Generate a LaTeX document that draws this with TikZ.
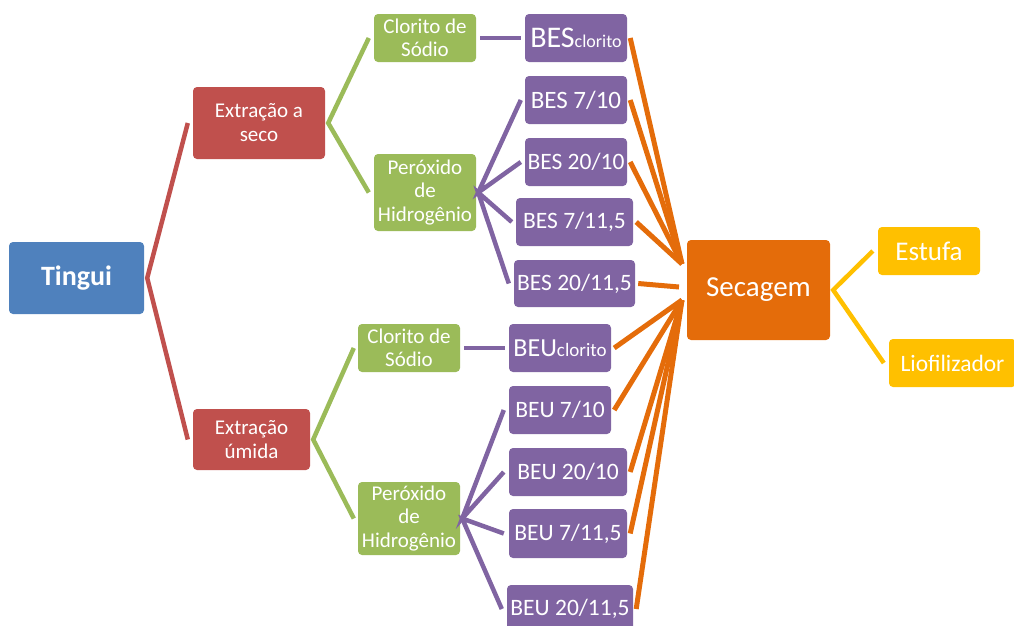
\documentclass[tikz,border=0pt]{standalone}
\usepackage{fontspec}
\setmainfont{Carlito}
\definecolor{cblue}{HTML}{4F81BD}
\definecolor{cred}{HTML}{C0504D}
\definecolor{cgreen}{HTML}{9BBB59}
\definecolor{cpurple}{HTML}{8064A2}
\definecolor{corange}{HTML}{E46C0A}
\definecolor{cyellow}{HTML}{FFC000}
\begin{document}
\begin{tikzpicture}[x=1pt,y=-1pt,
  box/.style={rounded corners=4pt,text=white,inner sep=0pt,align=center},
  bluebox/.style={box,fill=cblue},
  redbox/.style={box,fill=cred,font=\fontsize{21}{24}\selectfont},
  greenbox/.style={box,fill=cgreen,font=\fontsize{21}{23.5}\selectfont},
  purplebox/.style={box,fill=cpurple,font=\fontsize{23.5}{26}\selectfont},
  orangebox/.style={box,fill=corange},
  yellowbox/.style={box,fill=cyellow},
  redline/.style={draw=cred,line width=4.5pt},
  greenline/.style={draw=cgreen,line width=4.5pt},
  purpleline/.style={draw=cpurple,line width=4.5pt},
  orangeline/.style={draw=corange,line width=5pt},
  yellowline/.style={draw=cyellow,line width=4.5pt}]
\useasboundingbox (0,0) rectangle (1014,625);

% nodes
\node[bluebox,minimum width=135pt,minimum height=72pt,font=\bfseries\fontsize{28}{30}\selectfont] (tingui) at (76.5,278) {Tingui};
\node[redbox,minimum width=132pt,minimum height=72pt] (eseco) at (259,123) {Extração a\\seco};
\node[redbox,minimum width=117pt,minimum height=61pt] (eumida) at (251.5,439.5) {Extração\\úmida};

\node[greenbox,minimum width=102pt,minimum height=48pt] (cs1) at (425,38) {Clorito de\\Sódio};
\node[greenbox,minimum width=102pt,minimum height=77pt] (ph1) at (425,192.5) {Peróxido\\de\\Hidrogênio};
\node[greenbox,minimum width=102pt,minimum height=48pt] (cs2) at (409,348) {Clorito de\\Sódio};
\node[greenbox,minimum width=102pt,minimum height=73pt] (ph2) at (409,518.5) {Peróxido\\de\\Hidrogênio};

\node[purplebox,minimum width=102pt,minimum height=48pt] (bes0) at (576,38) {{\fontsize{30}{30}\selectfont BES}{\fontsize{18}{18}\selectfont clorito}};
\node[purplebox,minimum width=102pt,minimum height=48pt,font=\fontsize{25}{26}\selectfont] (bes1) at (576,100) {BES 7/10};
\node[purplebox,minimum width=102pt,minimum height=48pt] (bes2) at (576,162) {BES 20/10};
\node[purplebox,minimum width=117pt,minimum height=48pt] (bes3) at (574.5,222) {BES 7/11,5};
\node[purplebox,minimum width=121pt,minimum height=47pt] (bes4) at (574.5,283.5) {BES 20/11,5};

\node[purplebox,minimum width=102pt,minimum height=48pt] (beu0) at (560,348) {{\fontsize{26}{26}\selectfont BEU}{\fontsize{19}{19}\selectfont clorito}};
\node[purplebox,minimum width=102pt,minimum height=48pt] (beu1) at (560,410) {BEU 7/10};
\node[purplebox,minimum width=118pt,minimum height=48pt] (beu2) at (568,472) {BEU 20/10};
\node[purplebox,minimum width=118pt,minimum height=49pt] (beu3) at (568,533.5) {BEU 7/11,5};
\node[purplebox,minimum width=126pt,minimum height=48pt] (beu4) at (570,609) {BEU 20/11,5};

\node[orangebox,minimum width=143pt,minimum height=100pt,font=\fontsize{29}{30}\selectfont] (sec) at (758.5,290) {Secagem};
\node[yellowbox,minimum width=102pt,minimum height=48pt,font=\fontsize{27}{28}\selectfont] (est) at (929,251) {Estufa};
\node[yellowbox,minimum width=127pt,minimum height=48pt,font=\fontsize{23.5}{25}\selectfont] (lio) at (952.5,363) {Liofilizador};

% convergence points of the orange connectors
\coordinate (cu) at (682,264);
\coordinate (cm) at (679,287);
\coordinate (cl) at (682,300);

% connectors
\draw[redline] ([xshift=-5pt]eseco.west) -- ([xshift=3pt]tingui.east) -- ([xshift=-5pt]eumida.west);

\draw[greenline] ([xshift=-5pt]cs1.west) -- ([xshift=3pt]eseco.east) -- ([xshift=-5pt]ph1.west);
\draw[greenline] ([xshift=-4pt]cs2.west) -- ([xshift=3pt]eumida.east) -- ([xshift=-4pt]ph2.west);

\draw[purpleline] ([xshift=4pt]cs1.east) -- ([xshift=-4pt]bes0.west);
\draw[purpleline] ([xshift=-4pt]bes1.west) -- ([xshift=2pt]ph1.east) -- ([xshift=-4pt]bes2.west);
\draw[purpleline] ([xshift=-4pt]bes3.west) -- ([xshift=2pt]ph1.east) -- ([xshift=-5pt]bes4.west);
\draw[purpleline] ([xshift=4pt]cs2.east) -- ([xshift=-4pt]beu0.west);
\draw[purpleline] ([xshift=-5pt]beu1.west) -- ([xshift=2pt]ph2.east) -- ([xshift=-5pt]beu2.west);
\draw[purpleline] ([xshift=-5pt]beu3.west) -- ([xshift=2pt]ph2.east) -- ([xshift=-5pt]beu4.west);

\draw[orangeline] ([xshift=3pt]bes0.east) -- (cu);
\draw[orangeline] ([xshift=3pt]bes1.east) -- (cu);
\draw[orangeline] ([xshift=3pt]bes2.east) -- (cu);
\draw[orangeline] ([xshift=3pt]bes3.east) -- (cu);
\draw[orangeline] ([xshift=3pt]bes4.east) -- (cm);
\draw[orangeline] ([xshift=3pt]beu0.east) -- (cl);
\draw[orangeline] ([xshift=3pt]beu1.east) -- (cl);
\draw[orangeline] ([xshift=3pt]beu2.east) -- (cl);
\draw[orangeline] ([xshift=3pt]beu3.east) -- (cl);
\draw[orangeline] ([xshift=3pt]beu4.east) -- (cl);

\draw[yellowline] ([xshift=-5pt]est.west) -- ([xshift=3pt]sec.east) -- ([xshift=-5pt]lio.west);
\end{tikzpicture}
\end{document}
